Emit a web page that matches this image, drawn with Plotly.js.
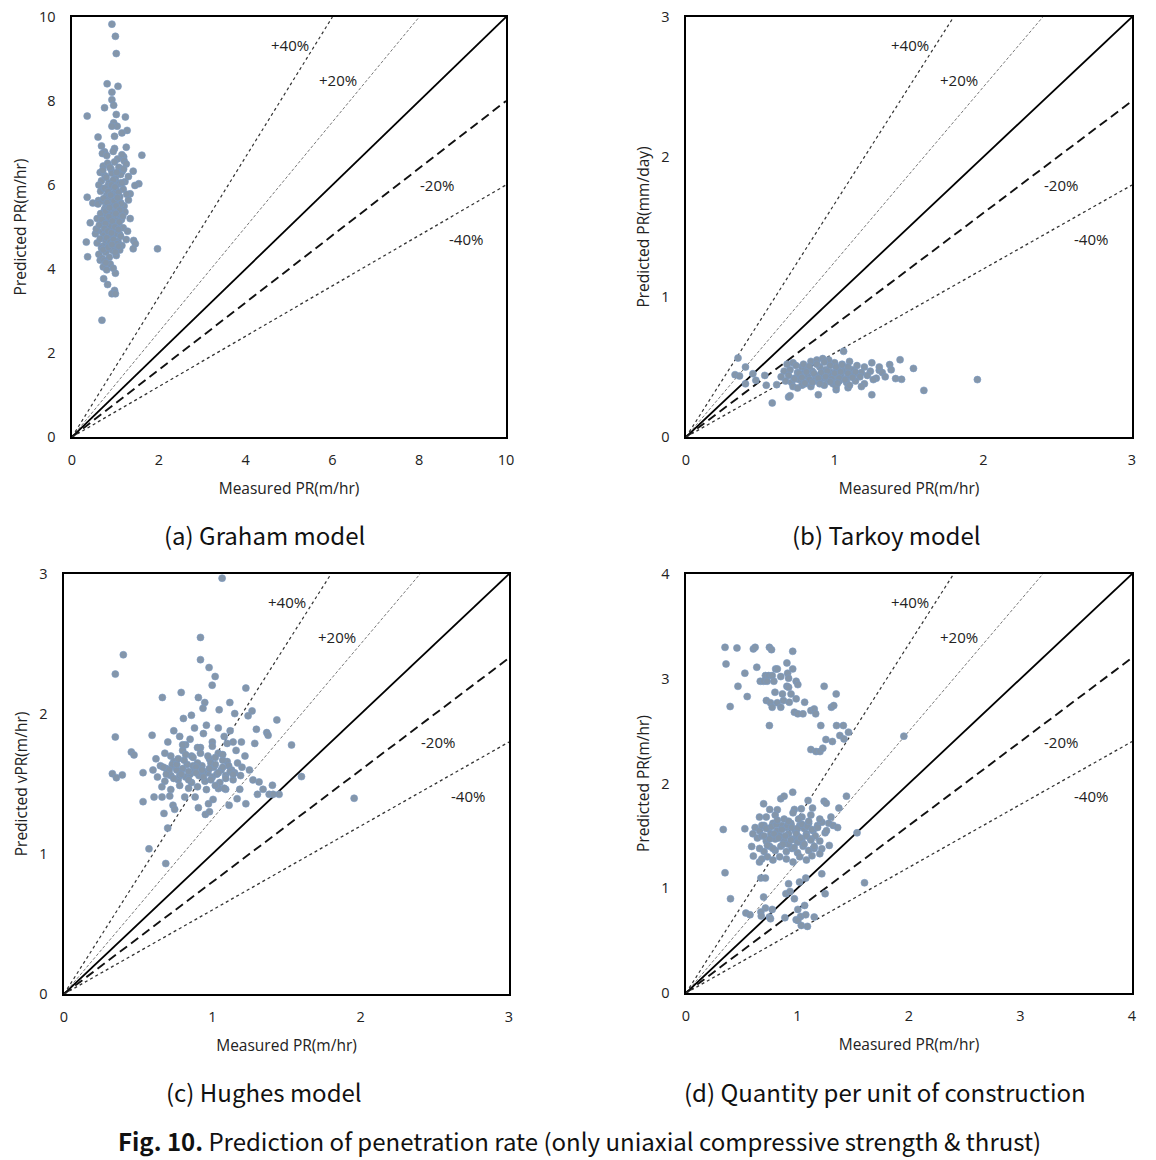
<!DOCTYPE html>
<html>
<head>
<meta charset="utf-8">
<script src="https://cdn.plot.ly/plotly-3.0.1.min.js"></script>
<style>
html,body{margin:0;padding:0;background:#fff;}
#chart{width:1156px;height:1160px;}
</style>
</head>
<body>
<div id="chart"></div>
<script>
// ---------- data ----------
const panelCaptions = ["(a) Graham model", "(b) Tarkoy model", "(c) Hughes model", "(d) Quantity per unit of construction"];
const figLabel = "Fig. 10.";
const figText = " Prediction of penetration rate (only uniaxial compressive strength & thrust)";
const xTitles = ["Measured PR(m/hr)", "Measured PR(m/hr)", "Measured PR(m/hr)", "Measured PR(m/hr)"];
const yTitles = ["Predicted PR(m/hr)", "Predicted PR(mm/day)", "Predicted vPR(m/hr)", "Predicted PR(m/hr)"];
const axisMax = [10, 3, 3, 4];
const axisDtick = [2, 1, 1, 1];
const lineLabels = ["+40%", "+20%", "-20%", "-40%"];
const lineSlopes = [1 / 0.6, 1 / 0.8, 1, 0.8, 0.6];

// (a) Graham model
const grahamMeasured = [
 0.92,1.00,1.02,0.81,1.06,0.92,0.92,0.96,0.75,0.35,1.02,1.23,0.96,1.04,0.92,1.27,1.15,0.98,0.60,1.25,
 1.61,0.68,0.75,0.98,1.19,1.54,1.45,0.35,0.48,0.61,1.41,1.34,0.42,0.33,0.36,1.97,1.42,1.46,1.41,0.65,
 0.73,0.82,1.00,0.98,0.92,1.00,0.69,0.58,0.54,
 0.70,0.80,0.95,1.05,1.15,1.20,
 0.72,0.82,0.90,0.98,1.08,1.16,1.25,0.65,
 0.68,0.76,0.85,0.92,1.00,1.06,1.12,1.22,1.30,0.62,
 0.66,0.74,0.80,0.88,0.94,1.02,1.10,1.18,1.26,0.98,0.84,
 0.60,0.70,0.78,0.86,0.92,0.99,1.05,1.12,1.20,1.30,0.75,0.95,
 0.58,0.66,0.73,0.80,0.87,0.93,1.00,1.07,1.14,1.22,1.34,0.84,0.97,
 0.56,0.63,0.70,0.77,0.84,0.90,0.97,1.04,1.10,1.18,1.28,0.74,1.00,
 0.58,0.65,0.72,0.78,0.85,0.92,0.98,1.06,1.15,1.25,0.68,0.88,
 0.62,0.70,0.78,0.86,0.94,1.02,1.10,0.74,
 0.72,0.80,0.88,0.95,0.78,
 0.71,0.79,0.87,0.95,1.03,1.11,1.19,0.76,0.83,0.91,0.99,1.07,1.15,0.73,0.81,0.89,0.97,1.05,1.13,
 0.78,0.86,0.94,1.02,1.10,0.69,0.77,0.85,0.93,1.01,1.09,1.17,0.75,0.83,0.91,0.99,1.07,
 0.80,0.88,0.96,1.04,1.12,0.72,0.84,0.92,1.00,1.08
];
const grahamPredicted = [
 9.83,9.54,9.13,8.41,8.35,8.21,8.03,7.90,7.84,7.64,7.68,7.62,7.48,7.40,7.40,7.30,7.24,7.16,7.14,6.90,
 6.71,6.93,6.79,6.87,6.67,6.03,5.99,5.71,5.57,5.63,6.33,5.79,5.10,4.64,4.29,4.48,4.68,4.60,4.48,4.21,
 3.77,3.63,3.90,3.49,3.41,3.41,2.78,4.92,4.84,
 6.75,6.70,6.80,6.62,6.72,6.58,
 6.45,6.52,6.38,6.55,6.42,6.33,6.50,6.30,
 6.10,6.22,6.05,6.28,6.15,6.02,6.25,6.08,6.20,6.00,
 5.85,5.92,5.75,5.95,5.80,5.88,5.72,5.90,5.78,5.70,5.98,
 5.55,5.62,5.48,5.66,5.52,5.60,5.45,5.58,5.50,5.64,5.42,5.44,
 5.20,5.32,5.15,5.28,5.12,5.35,5.22,5.30,5.18,5.36,5.20,5.38,5.10,
 4.95,5.05,4.88,5.00,4.85,5.02,4.92,5.06,4.82,4.98,4.90,4.80,4.84,
 4.62,4.72,4.55,4.68,4.58,4.75,4.52,4.66,4.56,4.70,4.50,4.48,
 4.35,4.25,4.40,4.28,4.44,4.32,4.45,4.20,
 4.05,3.98,4.12,4.02,4.15,
 6.35,6.18,6.42,6.12,6.30,6.05,6.38,5.92,5.84,6.00,5.95,5.82,6.05,5.68,5.58,5.76,5.62,5.70,5.55,
 5.38,5.46,5.30,5.50,5.40,5.18,5.08,5.24,5.14,5.32,5.12,5.26,4.96,4.90,4.86,5.00,4.94,
 4.74,4.64,4.70,4.60,4.78,4.46,4.52,4.58,4.40,4.54
];

// (b) Tarkoy model
const tarkoyMeasured = [
 0.35,0.33,0.36,0.40,0.40,0.45,0.47,0.53,0.54,0.58,0.61,0.69,0.70,0.89,1.06,1.01,1.09,1.25,1.44,1.53,
 1.45,1.60,1.96,1.37,1.30,1.41,
 0.68,0.72,0.78,0.84,0.88,0.92,0.96,1.00,1.05,1.10,1.15,1.20,1.25,1.30,
 0.66,0.70,0.75,0.80,0.85,0.90,0.94,0.98,1.02,1.06,1.12,1.18,1.24,1.32,1.38,
 0.64,0.69,0.73,0.77,0.82,0.87,0.92,0.96,1.00,1.04,1.08,1.13,1.17,1.22,1.28,1.34,
 0.67,0.71,0.76,0.80,0.86,0.90,0.95,0.99,1.03,1.08,1.14,1.20,1.26,
 0.72,0.78,0.84,0.93,1.01,1.10,1.18,0.75,
 0.74,0.79,0.83,0.88,0.93,0.97,1.01,1.05,1.09,0.76,0.81,0.86,0.91,0.95,1.00,1.04,1.09,1.14,
 0.73,0.78,0.83,0.89,0.94,0.98,1.03,1.07,1.12,0.80,0.85,0.90,0.97,1.02
];
const tarkoyPredicted = [
 0.564,0.445,0.436,0.50,0.38,0.452,0.405,0.44,0.37,0.243,0.374,0.286,0.295,0.302,0.612,0.338,0.352,0.302,0.552,0.49,
 0.412,0.333,0.41,0.517,0.476,0.417,
 0.52,0.53,0.50,0.54,0.55,0.56,0.55,0.53,0.52,0.54,0.51,0.50,0.53,0.50,
 0.47,0.48,0.46,0.49,0.47,0.50,0.48,0.46,0.49,0.47,0.48,0.46,0.47,0.46,0.48,
 0.43,0.44,0.42,0.45,0.43,0.44,0.42,0.45,0.43,0.44,0.42,0.45,0.43,0.44,0.42,0.43,
 0.40,0.39,0.41,0.38,0.40,0.39,0.41,0.38,0.40,0.39,0.40,0.38,0.41,
 0.36,0.37,0.36,0.37,0.36,0.37,0.36,0.35,
 0.51,0.52,0.505,0.52,0.535,0.51,0.50,0.515,0.50,0.455,0.465,0.455,0.46,0.47,0.455,0.465,0.455,0.465,
 0.415,0.425,0.41,0.42,0.43,0.415,0.42,0.41,0.425,0.385,0.39,0.38,0.395,0.385
];

// (c) Hughes model
const hughesMeasured = [
 1.066,0.92,0.40,0.346,0.92,0.978,1.019,0.999,1.226,0.79,0.663,0.906,0.949,0.937,1.118,1.046,1.268,1.241,1.151,1.435,
 0.859,0.805,0.346,0.594,1.367,1.376,1.534,1.297,1.196,1.286,0.454,0.472,0.326,0.353,0.393,0.533,0.607,0.533,0.661,0.674,
 0.699,0.573,0.686,1.601,1.956,1.405,1.45,1.383,1.41,1.304,1.315,1.342,1.274,1.226,1.167,1.113,1.005,0.974,0.953,0.981,
 0.906,0.884,0.814,0.735,0.746,0.713,1.09,1.041,1.185,
 0.62,0.68,0.74,0.80,0.86,0.92,0.98,1.04,1.10,1.16,1.22,
 0.60,0.65,0.70,0.75,0.79,0.83,0.88,0.93,0.97,1.01,1.06,1.11,1.15,1.20,1.25,
 0.63,0.68,0.72,0.77,0.82,0.86,0.91,0.95,1.00,1.05,1.09,1.14,1.19,
 0.66,0.72,0.78,0.84,0.90,0.96,1.02,1.08,
 0.70,0.78,0.85,0.94,1.00,1.08,1.14,0.88,0.96,1.04,0.74,0.82,1.12,
 0.73,0.81,0.90,0.99,1.07,0.76,0.85,0.94,1.03,1.13,0.69,0.87,0.78,
 0.67,0.71,0.76,0.80,0.84,0.89,0.93,0.98,1.02,1.07,1.12,1.17,
 0.69,0.74,0.79,0.84,0.89,0.94,0.99,1.04,1.09,1.14,
 0.72,0.77,0.82,0.87,0.92,0.97,1.02,1.07,0.80,0.90,1.00,1.10
];
const hughesPredicted = [
 2.97,2.547,2.423,2.285,2.388,2.332,2.268,2.206,2.185,2.154,2.118,2.118,2.082,2.041,2.082,2.03,2.022,1.987,2.003,1.958,
 1.991,1.968,1.836,1.848,1.867,1.848,1.779,1.891,1.80,1.79,1.729,1.708,1.574,1.545,1.565,1.581,1.407,1.374,1.407,1.29,
 1.185,1.037,0.932,1.553,1.398,1.491,1.426,1.426,1.426,1.426,1.515,1.462,1.529,1.359,1.395,1.348,1.39,1.359,1.283,1.302,
 1.331,1.407,1.407,1.348,1.319,1.414,1.462,1.467,1.462,
 1.68,1.72,1.66,1.74,1.70,1.76,1.68,1.72,1.66,1.74,1.70,
 1.60,1.63,1.58,1.62,1.59,1.64,1.60,1.63,1.58,1.62,1.60,1.63,1.58,1.62,1.60,
 1.55,1.52,1.56,1.53,1.55,1.51,1.56,1.52,1.55,1.51,1.56,1.53,1.56,
 1.48,1.46,1.49,1.47,1.48,1.46,1.49,1.47,
 1.80,1.84,1.82,1.86,1.80,1.84,1.80,1.90,1.92,1.90,1.88,1.78,1.88,
 1.64,1.67,1.65,1.65,1.67,1.60,1.57,1.59,1.57,1.60,1.61,1.63,1.56,
 1.62,1.60,1.64,1.61,1.59,1.62,1.60,1.61,1.64,1.62,1.59,1.65,
 1.57,1.54,1.57,1.53,1.58,1.55,1.53,1.58,1.54,1.57,
 1.70,1.68,1.71,1.69,1.72,1.70,1.69,1.71,1.78,1.76,1.77,1.79
];

// (d) Quantity per unit of construction
const quantityMeasured = [
 0.35,0.457,0.604,0.62,0.748,0.767,0.957,0.359,0.635,0.905,0.804,0.819,0.957,0.528,0.911,0.712,0.742,0.773,0.85,0.92,
 0.666,0.696,0.727,0.788,0.988,1.003,0.466,0.905,0.92,1.239,0.549,0.798,0.865,0.942,1.347,0.721,0.758,0.819,0.874,0.926,
 0.988,1.064,0.773,0.85,0.396,0.972,1.003,1.049,1.12,1.15,1.163,1.304,1.325,0.748,1.209,1.35,1.411,1.457,1.38,1.417,
 1.255,1.313,1.12,1.166,1.202,1.227,1.954,
 0.696,0.85,0.88,0.957,1.095,1.239,1.258,1.439,1.371,1.034,0.972,0.751,0.819,1.135,0.659,0.334,0.528,1.534,1.248,1.285,
 0.589,0.604,0.659,1.218,0.35,0.672,0.712,1.074,1.018,1.218,1.601,0.92,1.248,0.399,0.696,0.896,0.933,0.972,1.064,1.003,
 0.712,0.773,0.672,0.537,0.574,0.675,0.748,0.758,1.028,1.074,1.15,0.988,1.003,1.034,1.089,0.887,
 0.62,0.66,0.70,0.74,0.78,0.82,0.86,0.90,0.94,0.98,1.02,1.06,1.10,1.14,1.18,1.22,1.28,1.32,1.36,
 0.64,0.68,0.72,0.76,0.80,0.84,0.88,0.92,0.96,1.00,1.04,1.08,1.12,1.16,1.20,
 0.66,0.70,0.75,0.80,0.85,0.90,0.95,1.00,1.05,1.10,1.15,1.20,
 0.68,0.73,0.78,0.84,0.90,0.96,1.02,1.08,1.13,
 0.72,0.80,0.88,0.96,1.04,1.12,1.20,1.30,
 0.60,1.26,0.92,1.00,
 0.68,0.72,0.77,0.81,0.86,0.91,0.95,1.00,1.04,1.09,1.13,1.18,
 0.70,0.75,0.79,0.83,0.89,0.94,0.99,1.03,1.08,1.12,
 0.73,0.78,0.87,0.97,1.06,1.15,0.82,0.92,1.01,1.10
];
const quantityPredicted = [
 3.30,3.294,3.285,3.30,3.30,3.278,3.262,3.141,3.11,3.151,3.094,3.094,3.094,3.053,3.053,3.03,3.03,3.03,3.021,3.005,
 2.976,2.976,2.976,2.976,2.976,2.944,2.928,2.928,2.919,2.928,2.83,2.871,2.855,2.855,2.855,2.792,2.77,2.77,2.792,2.776,
 2.808,2.776,2.728,2.728,2.735,2.681,2.665,2.665,2.696,2.712,2.665,2.728,2.744,2.553,2.553,2.553,2.553,2.49,2.458,2.426,
 2.42,2.401,2.324,2.305,2.305,2.337,2.452,
 1.806,1.854,1.879,1.917,1.838,1.831,1.812,1.879,1.765,1.758,1.752,1.752,1.749,1.765,1.679,1.561,1.568,1.529,1.529,1.409,
 1.399,1.307,1.25,1.377,1.148,1.097,1.097,1.097,1.059,1.138,1.052,1.043,0.948,0.90,0.916,0.948,0.97,0.90,0.836,0.798,
 0.811,0.798,0.773,0.763,0.747,0.734,0.725,0.709,0.731,0.747,0.725,0.70,0.693,0.645,0.636,0.719,
 1.58,1.55,1.60,1.57,1.62,1.55,1.60,1.58,1.62,1.55,1.60,1.57,1.62,1.55,1.60,1.63,1.62,1.60,1.58,
 1.48,1.50,1.45,1.52,1.47,1.50,1.45,1.52,1.47,1.50,1.45,1.52,1.47,1.50,1.45,
 1.38,1.35,1.40,1.36,1.40,1.35,1.38,1.34,1.40,1.36,1.38,1.33,
 1.28,1.30,1.27,1.30,1.28,1.25,1.30,1.27,1.31,
 1.68,1.70,1.66,1.72,1.68,1.70,1.66,1.68,
 1.52,1.55,1.42,1.44,
 1.60,1.57,1.59,1.61,1.56,1.60,1.58,1.57,1.61,1.59,1.56,1.58,
 1.50,1.47,1.52,1.48,1.50,1.46,1.52,1.48,1.50,1.46,
 1.41,1.38,1.42,1.39,1.42,1.40,1.65,1.64,1.66,1.64
];

// ---------- layout helpers ----------
const W = 1156, H = 1160;
const boxes = [ // plot-area pixel boxes [left, right, top, bottom]
  [72, 506, 17, 437],
  [686, 1132, 17, 437],
  [64, 509, 574, 994],
  [686, 1132, 574, 993]
];
const measuredSets = [grahamMeasured, tarkoyMeasured, hughesMeasured, quantityMeasured];
const predictedSets = [grahamPredicted, tarkoyPredicted, hughesPredicted, quantityPredicted];

const lineStyles = [
  {color: '#333333', width: 1.2, dash: 'dot'},
  {color: '#555555', width: 0.8, dash: '3px,2px'},
  {color: '#000000', width: 1.8, dash: 'solid'},
  {color: '#111111', width: 1.9, dash: '9px,5px'},
  {color: '#333333', width: 1.3, dash: 'dot'}
];
const labelPos = [ // centre of each label, fraction of plot domain
  [0.502, 0.933], [0.613, 0.85], [0.841, 0.60], [0.908, 0.471]
];

const tickFont = {family: 'Open Sans, Noto Sans, sans-serif', size: 14.5, color: '#222'};
const titleFont = {family: 'Open Sans, Noto Sans, sans-serif', size: 15.5, color: '#222'};

const traces = [];
const layout = {
  width: W, height: H,
  margin: {l: 0, r: 0, t: 0, b: 0},
  paper_bgcolor: '#ffffff', plot_bgcolor: '#ffffff',
  showlegend: false,
  annotations: [],
  font: tickFont
};

for (let i = 0; i < 4; i++) {
  const xa = i === 0 ? 'x' : 'x' + (i + 1);
  const ya = i === 0 ? 'y' : 'y' + (i + 1);
  const xKey = i === 0 ? 'xaxis' : 'xaxis' + (i + 1);
  const yKey = i === 0 ? 'yaxis' : 'yaxis' + (i + 1);
  const [L, R, T, B] = boxes[i];
  const m = axisMax[i];

  // reference lines through the origin
  lineSlopes.forEach((s, k) => {
    const xe = Math.min(m, m / s);
    traces.push({
      type: 'scatter', mode: 'lines', xaxis: xa, yaxis: ya,
      x: [0, xe], y: [0, xe * s],
      line: lineStyles[k], hoverinfo: 'skip'
    });
  });

  traces.push({
    type: 'scatter', mode: 'markers', xaxis: xa, yaxis: ya,
    x: measuredSets[i], y: predictedSets[i],
    marker: {size: 7, color: '#8496aa', line: {color: '#7a9bc4', width: 0.6}},
    cliponaxis: false
  });

  const axCommon = {
    range: [0, m], dtick: axisDtick[i], tick0: 0,
    showgrid: false, zeroline: false,
    showline: true, linecolor: '#000', linewidth: 1.6, mirror: true,
    ticks: '', tickfont: tickFont, fixedrange: true
  };
  layout[xKey] = Object.assign({}, axCommon, {
    domain: [L / W, R / W], anchor: ya,
    ticklabelstandoff: 9,
    title: {text: xTitles[i], font: titleFont, standoff: 15}
  });
  layout[yKey] = Object.assign({}, axCommon, {
    domain: [1 - B / H, 1 - T / H], anchor: xa,
    ticklabelstandoff: 12,
    title: {text: yTitles[i], font: titleFont, standoff: 8}
  });

  lineLabels.forEach((t, k) => {
    layout.annotations.push({
      text: t, xref: xa + ' domain', yref: ya + ' domain',
      x: labelPos[k][0], y: labelPos[k][1], showarrow: false,
      xanchor: 'center', yanchor: 'middle',
      font: {family: 'Open Sans, Noto Sans, sans-serif', size: 15, color: '#222'}
    });
  });
}

// panel captions
const capPos = [[264, 534], [886, 534], [264, 1091], [885, 1091]];
panelCaptions.forEach((c, i) => {
  layout.annotations.push({
    text: c, xref: 'paper', yref: 'paper',
    x: capPos[i][0] / W, y: 1 - capPos[i][1] / H, showarrow: false,
    xanchor: 'center', yanchor: 'middle',
    font: {family: 'Noto Sans CJK KR, Noto Sans, sans-serif', size: 24, color: '#111'}
  });
});
layout.annotations.push({
  text: '<b>' + figLabel + '</b>' + figText, xref: 'paper', yref: 'paper',
  x: 579 / W, y: 1 - 1140 / H, showarrow: false, xanchor: 'center', yanchor: 'middle',
  font: {family: 'Noto Sans CJK KR, Noto Sans, sans-serif', size: 24, color: '#111'}
});

Plotly.newPlot('chart', traces, layout, {staticPlot: true, displayModeBar: false});
</script>
</body>
</html>
